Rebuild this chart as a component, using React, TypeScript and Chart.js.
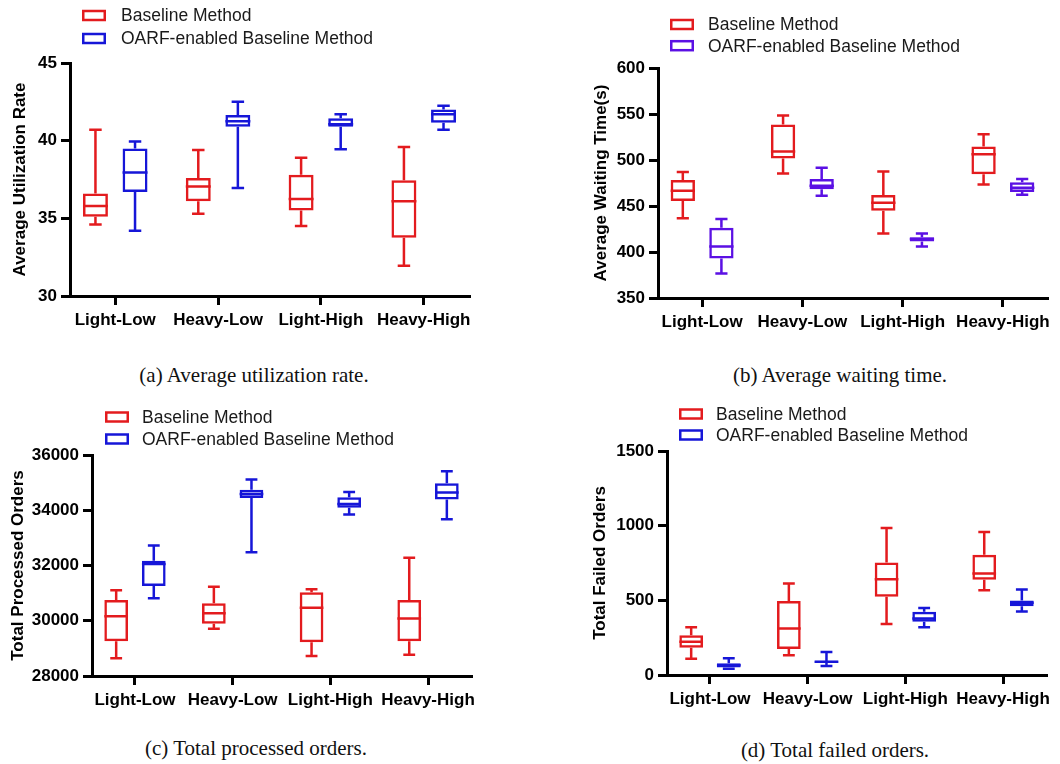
import React, { useEffect, useRef } from 'react';
import { Chart, registerables } from 'chart.js';

Chart.register(...registerables);
Chart.defaults.font.family = "'Liberation Sans', Arial, sans-serif";

// ---------- data ----------
const categories = ['Light-Low', 'Heavy-Low', 'Light-High', 'Heavy-High'];
const seriesLabels = ['Baseline Method', 'OARF-enabled Baseline Method'];

// each entry: [min, q1, median, q3, max]
const utilBaseline = [[34.6, 35.1, 35.8, 36.6, 40.7], [35.3, 36.1, 37.05, 37.6, 39.4], [34.5, 35.5, 36.25, 37.8, 38.9], [31.95, 33.75, 36.1, 37.45, 39.6]];
const utilOarf = [[34.2, 36.7, 37.95, 39.5, 39.95], [36.95, 40.9, 41.25, 41.65, 42.5], [39.45, 40.9, 41.05, 41.45, 41.7], [40.7, 41.15, 41.7, 42.0, 42.25]];

const waitBaseline = [[436.8, 455.4, 466.6, 478.3, 487], [485.2, 501.5, 509.2, 538.6, 548.4], [420, 444.8, 453.6, 461.9, 487.4], [473.5, 484.4, 506.2, 514.6, 528]];
const waitOarf = [[376.5, 392.9, 406, 426.3, 435.8], [461.2, 468.1, 472.1, 479.4, 491.7], [406, 411.4, 414, 416.1, 420.1], [462.3, 465.2, 469.9, 475.7, 479.4]];

const processedBaseline = [[28640, 29255, 30160, 30750, 31100], [29710, 29890, 30270, 30630, 31230], [28720, 29220, 30470, 31030, 31140], [28770, 29255, 30080, 30750, 32280]];
const processedOarf = [[30810, 31260, 32050, 32175, 32720], [32480, 34440, 34590, 34745, 35110], [33850, 34095, 34225, 34470, 34660], [33670, 34385, 34640, 34975, 35410]];

const failedBaseline = [[109, 183, 223, 267, 319], [132, 174, 312, 495, 613], [341, 524, 642, 753, 985], [568, 637, 680, 805, 958]];
const failedOarf = [[42, 51, 65, 78, 112], [60, 80, 89, 96, 154], [319, 357, 379, 424, 448], [426, 461, 484, 499, 573]];

const utilTicks = [30, 35, 40, 45];
const waitTicks = [350, 400, 450, 500, 550, 600];
const processedTicks = [28000, 30000, 32000, 34000, 36000];
const failedTicks = [0, 500, 1000, 1500];

const captions = ['(a) Average utilization rate.', '(b) Average waiting time.', '(c) Total processed orders.', '(d) Total failed orders.'];

// ---------- styles ----------
const RED = '#e31b1e';
const BLUE = '#1616d8';
const PURPLE = '#5b10e4';
const SANS = "'Liberation Sans', Arial, sans-serif";

type Panel = {
  left: number; top: number; w: number; h: number;
  area: { l: number; t: number; r: number; b: number };
  title: string; titlePad: number; ticks: number[];
  series: number[][][]; colors: string[];
  legend: { x: number; textX: number; rows: number[] };
};

const panels: Panel[] = [
  {
    left: 0, top: 0, w: 500, h: 345, area: { l: 70, t: 63, r: 470, b: 296 },
    title: 'Average Utilization Rate', titlePad: 10, ticks: utilTicks,
    series: [utilBaseline, utilOarf], colors: [RED, BLUE],
    legend: { x: 82, textX: 121, rows: [15.5, 38.5] },
  },
  {
    left: 530, top: 0, w: 530, h: 345, area: { l: 128, t: 68, r: 518, b: 298 },
    title: 'Average Waiting Time(s)', titlePad: 61, ticks: waitTicks,
    series: [waitBaseline, waitOarf], colors: [RED, PURPLE],
    legend: { x: 140, textX: 178, rows: [24.5, 45.7] },
  },
  {
    left: 0, top: 390, w: 500, h: 335, area: { l: 92, t: 65, r: 472, b: 286 },
    title: 'Total Processed Orders', titlePad: 8, ticks: processedTicks,
    series: [processedBaseline, processedOarf], colors: [RED, BLUE],
    legend: { x: 105, textX: 142, rows: [27, 49] },
  },
  {
    left: 530, top: 390, w: 530, h: 335, area: { l: 137, t: 61, r: 517, b: 285 },
    title: 'Total Failed Orders', titlePad: 60, ticks: failedTicks,
    series: [failedBaseline, failedOarf], colors: [RED, BLUE],
    legend: { x: 149, textX: 186, rows: [24, 45] },
  },
];

const captionPos = [
  { x: 254, y: 375 },
  { x: 840, y: 375 },
  { x: 256, y: 748 },
  { x: 835, y: 750 },
];

// ---------- plugins ----------
const boxPlugin = {
  id: 'boxWhiskers',
  afterDatasetsDraw(chart: any) {
    const ctx = chart.ctx;
    const ys = chart.scales.y;
    chart.data.datasets.forEach((ds: any, di: number) => {
      const meta = chart.getDatasetMeta(di);
      meta.data.forEach((bar: any, i: number) => {
        const [mn, q1, md, q3, mx] = ds.stats[i];
        const { x, width } = bar.getProps(['x', 'width'], true);
        const p = (v: number) => ys.getPixelForValue(v);
        ctx.save();
        ctx.strokeStyle = ds.borderColor;
        ctx.lineWidth = ds.borderWidth;
        ctx.lineCap = 'butt';
        ctx.beginPath();
        ctx.moveTo(x - width / 2, p(md));
        ctx.lineTo(x + width / 2, p(md));
        ctx.moveTo(x, p(q3));
        ctx.lineTo(x, p(mx));
        ctx.moveTo(x, p(q1));
        ctx.lineTo(x, p(mn));
        ctx.moveTo(x - width / 4, p(mx));
        ctx.lineTo(x + width / 4, p(mx));
        ctx.moveTo(x - width / 4, p(mn));
        ctx.lineTo(x + width / 4, p(mn));
        ctx.stroke();
        ctx.restore();
      });
    });
  },
};

const legendPlugin = {
  id: 'boxLegend',
  afterDraw(chart: any, _args: any, opts: any) {
    const ctx = chart.ctx;
    ctx.save();
    chart.data.datasets.forEach((ds: any, i: number) => {
      const cy = opts.rows[i];
      ctx.strokeStyle = ds.borderColor;
      ctx.lineWidth = 2.5;
      ctx.strokeRect(opts.x + 1.25, cy - 4.5, 21.5, 9);
      ctx.fillStyle = '#1a1a1a';
      ctx.font = `17.5px ${SANS}`;
      ctx.textBaseline = 'middle';
      ctx.textAlign = 'left';
      ctx.fillText(ds.label, opts.textX, cy + 1);
    });
    ctx.restore();
  },
};

function BoxChart({ panel }: { panel: Panel }) {
  const ref = useRef<HTMLCanvasElement | null>(null);
  useEffect(() => {
    if (!ref.current) return;
    const p = panel;
    const tickFont = { family: SANS, size: 17, weight: 'bold' as const };
    const chart = new Chart(ref.current, {
      type: 'bar',
      data: {
        datasets: p.series.map((s, si) => ({
          label: seriesLabels[si],
          data: s.map((st, i) => ({ x: i, y: [st[1], st[3]] })),
          stats: s,
          backgroundColor: 'rgba(0,0,0,0)',
          borderColor: p.colors[si],
          borderWidth: 2.5,
          borderSkipped: false,
          categoryPercentage: 0.77,
          barPercentage: 0.63,
        })) as any,
      },
      options: {
        responsive: false,
        animation: false,
        layout: { padding: { left: 0, top: p.area.t, right: p.w - p.area.r, bottom: 0 } },
        plugins: {
          legend: { display: false },
          tooltip: { enabled: false },
          boxLegend: p.legend,
        } as any,
        scales: {
          x: {
            type: 'linear',
            min: -0.44,
            max: 3.45,
            offset: false,
            afterBuildTicks: (s: any) => {
              s.ticks = categories.map((_, i) => ({ value: i }));
            },
            afterFit: (s: any) => {
              s.height = p.h - p.area.b;
            },
            grid: { display: true, drawOnChartArea: false, drawTicks: true, tickLength: 9, tickWidth: 3, tickColor: '#000', offset: false },
            border: { display: true, color: '#000', width: 3 },
            ticks: {
              autoSkip: false, maxRotation: 0, minRotation: 0, padding: 5, color: '#000', font: tickFont,
              includeBounds: false,
              callback: (v: any) => categories[Math.round(Number(v))] ?? '',
            },
          },
          y: {
            type: 'linear',
            min: p.ticks[0],
            max: p.ticks[p.ticks.length - 1],
            afterBuildTicks: (s: any) => {
              s.ticks = p.ticks.map((v) => ({ value: v }));
            },
            afterFit: (s: any) => {
              s.width = p.area.l;
            },
            grid: { display: true, drawOnChartArea: false, drawTicks: true, tickLength: 9, tickWidth: 3, tickColor: '#000' },
            border: { display: true, color: '#000', width: 3 },
            ticks: { padding: 4, color: '#000', font: tickFont, callback: (v: any) => String(v) },
            title: {
              display: true, text: p.title, color: '#000',
              font: { family: SANS, size: 17, weight: 'bold' },
              padding: { top: p.titlePad, bottom: 0 },
            },
          },
        } as any,
      },
      plugins: [boxPlugin, legendPlugin],
    });
    return () => chart.destroy();
  }, [panel]);
  return (
    <canvas
      ref={ref}
      width={panel.w}
      height={panel.h}
      style={{ position: 'absolute', left: panel.left, top: panel.top, width: panel.w, height: panel.h }}
    />
  );
}

export default function App() {
  return (
    <div style={{ position: 'absolute', left: 0, top: 0, width: 1060, height: 764, background: '#fff', overflow: 'hidden' }}>
      {panels.map((p, i) => (
        <BoxChart key={i} panel={p} />
      ))}
      {captions.map((c, i) => (
        <div
          key={'c' + i}
          style={{
            position: 'absolute',
            left: captionPos[i].x - 200,
            top: captionPos[i].y - 12,
            width: 400,
            textAlign: 'center',
            fontFamily: "'Liberation Serif', 'Times New Roman', serif",
            fontSize: 21,
            lineHeight: '24px',
            color: '#111',
            whiteSpace: 'nowrap',
          }}
        >
          {c}
        </div>
      ))}
    </div>
  );
}
